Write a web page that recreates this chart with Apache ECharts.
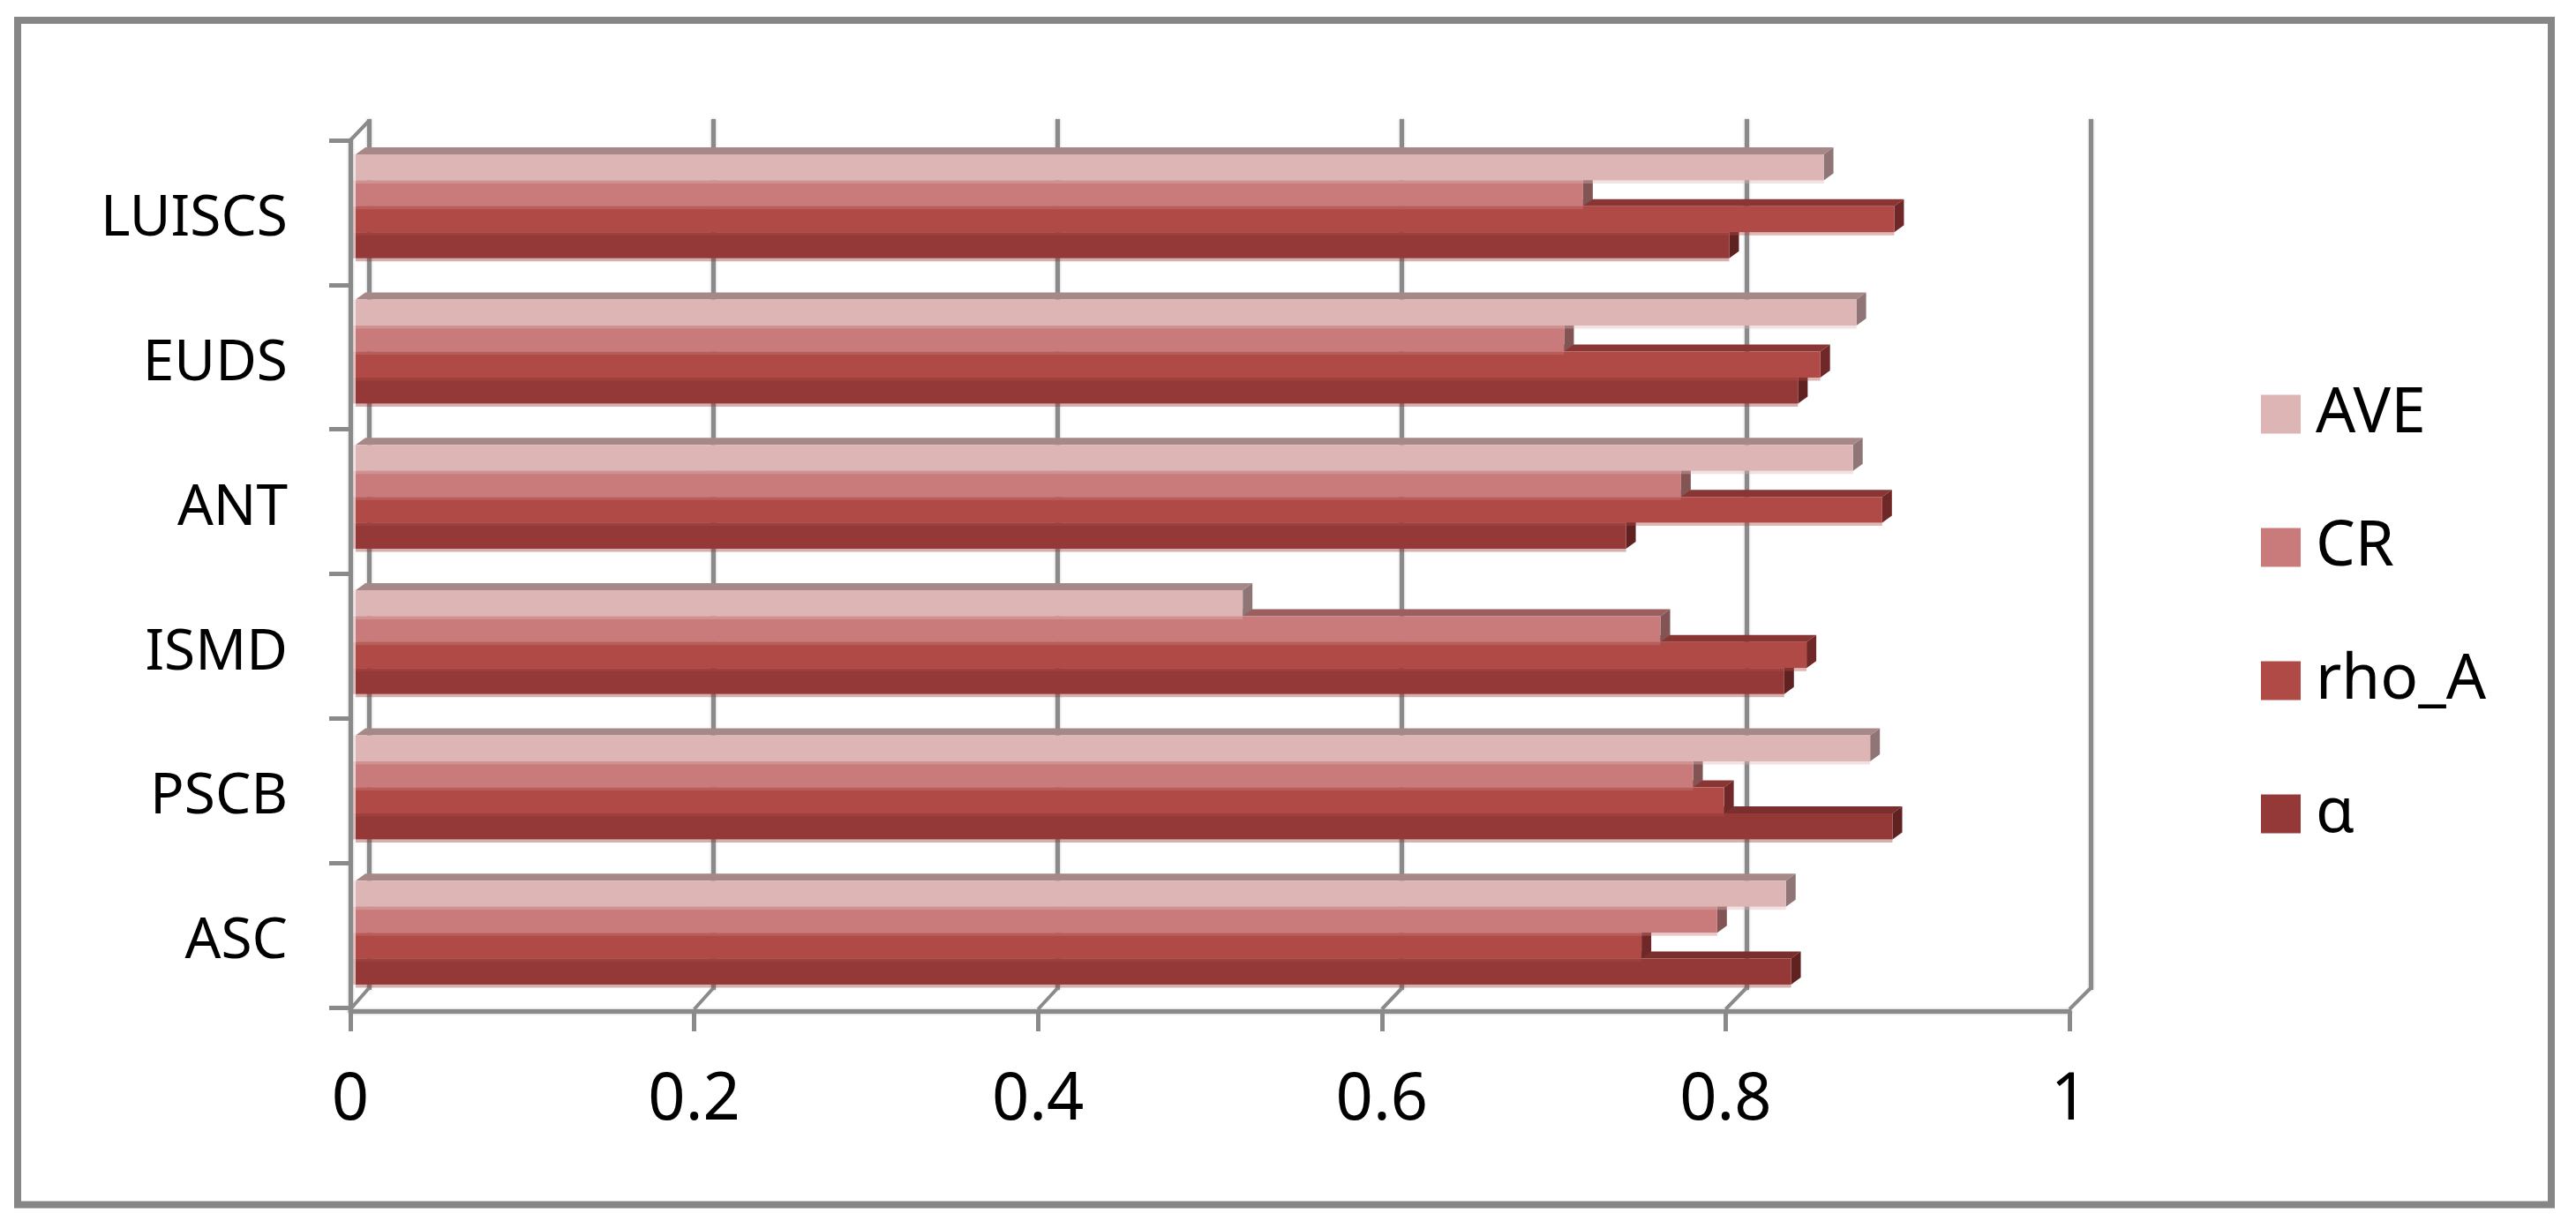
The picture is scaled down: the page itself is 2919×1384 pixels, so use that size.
<!DOCTYPE html>
<html>
<head>
<meta charset="utf-8">
<style>html,body{margin:0;padding:0;background:#fff}#c{width:2919px;height:1384px}</style>
<script src="https://cdn.jsdelivr.net/npm/echarts@6/dist/echarts.min.js"></script>
</head>
<body>
<div id="c"></div>
<script>
// Categories run bottom to top, as on the picture.
const categories = ['ASC', 'PSCB', 'ISMD', 'ANT', 'EUDS', 'LUISCS'];
const alphaValues = [0.835, 0.894, 0.831, 0.739, 0.839, 0.799];
const rhoAValues  = [0.748, 0.796, 0.844, 0.888, 0.852, 0.895];
const crValues    = [0.792, 0.778, 0.759, 0.771, 0.703, 0.714];
const aveValues   = [0.832, 0.881, 0.516, 0.871, 0.873, 0.854];
const valueTicks  = [0, 0.2, 0.4, 0.6, 0.8, 1];
const legendOrder = ['AVE', 'CR', 'rho_A', 'α'];

const FONT = '"Noto Sans", sans-serif';
const GREY = '#8a8a8a';
const DX = 11, DY = 8;            // bar extrusion
const GROUP_RATIO = 118 / 165;    // share of a category band filled by the 4 bars

const seriesDefs = [
  { name: 'α',     values: alphaValues, slot: 3, face: '#943938', cap: '#7a2f2e', side: '#602221' },
  { name: 'rho_A', values: rhoAValues,  slot: 2, face: '#b04a46', cap: '#893533', side: '#6f2827' },
  { name: 'CR',    values: crValues,    slot: 1, face: '#c97a7a', cap: '#9b5f5f', side: '#835454' },
  { name: 'AVE',   values: aveValues,   slot: 0, face: '#dcb5b4', cap: '#a78889', side: '#8f7576' }
];

function barRenderer(def) {
  return function (params, api) {
    const val = api.value(0), cat = api.value(1);
    const end = api.coord([val, cat]);
    const start = api.coord([0, cat]);
    const band = api.size([0, 1])[1];
    const groupH = band * GROUP_RATIO;
    const h = groupH / 4;
    const yt = end[1] - groupH / 2 + def.slot * h;
    const yb = yt + h;
    const x0 = start[0], xe = end[0];
    return {
      type: 'group',
      children: [
        { type: 'polygon', shape: { points: [[x0, yt], [x0 + DX, yt - DY], [xe + DX, yt - DY], [xe, yt]] },
          style: { fill: def.cap } },
        { type: 'polygon', shape: { points: [[xe, yt], [xe + DX, yt - DY], [xe + DX, yb - DY], [xe, yb]] },
          style: { fill: def.side } },
        { type: 'rect', shape: { x: x0, y: yt, width: xe - x0, height: h },
          style: { fill: def.face } },
        { type: 'rect', shape: { x: x0, y: yb, width: xe - x0, height: 3.5 },
          style: { fill: def.face, opacity: 0.4 } },
        { type: 'rect', shape: { x: x0 - 3, y: yt, width: 3, height: h },
          style: { fill: def.face, opacity: 0.3 } }
      ]
    };
  };
}

function floorRenderer(params, api) {
  const v = api.value(0);
  const x = api.coord([v, 0])[0];
  const r = params.coordSys;
  const yb = r.y + r.height;
  const dx = 21 + 3 * v;
  const kids = [{ type: 'line', shape: { x1: x, y1: yb + 2, x2: x + dx, y2: yb - 22 },
    style: { stroke: GREY, lineWidth: 4 } }];
  if (v === 0) {
    kids.push({ type: 'line', shape: { x1: x, y1: r.y, x2: x + dx, y2: r.y - 22 },
      style: { stroke: GREY, lineWidth: 4 } });
  }
  return { type: 'group', children: kids };
}

const softLine = { color: GREY, width: 5, shadowBlur: 3, shadowColor: 'rgba(134,134,134,0.6)' };

const option = {
  backgroundColor: '#fff',
  animation: false,
  graphic: [{
    type: 'rect', z: 0, silent: true,
    shape: { x: 20, y: 23, width: 2871, height: 1342.5 },
    style: { fill: '#fff', stroke: '#868686', lineWidth: 8 }
  }],
  legend: {
    left: 2562, top: 434, orient: 'vertical', padding: 0,
    itemWidth: 45, itemHeight: 44, itemGap: 80,
    selectedMode: false,
    data: legendOrder.map(n => ({ name: n, icon: 'rect' })),
    textStyle: { fontFamily: FONT, fontSize: 71, lineHeight: 71, color: '#000', padding: [0, 0, 0, 12] }
  },
  grid: [
    { left: 397, top: 159, width: 1948, height: 983, containLabel: false },   // front plane
    { left: 418, top: 135, width: 1951, height: 987, containLabel: false },   // back wall
    { left: 403, top: 151.5, width: 1948, height: 988, containLabel: false }, // bar plane
    { left: 397, top: 167, width: 1948, height: 983, containLabel: false }    // category label plane
  ],
  xAxis: [
    { gridIndex: 0, type: 'value', min: 0, max: 1, interval: 0.2, offset: 4,
      axisLine: { show: true, lineStyle: softLine },
      axisTick: { show: true, length: 23, lineStyle: { color: GREY, width: 5 } },
      axisLabel: { margin: 65, fontFamily: FONT, fontSize: 74, color: '#000',
        formatter: v => String(valueTicks[Math.round(v * 5)]) },
      splitLine: { show: false } },
    { gridIndex: 1, type: 'value', min: 0, max: 1, interval: 0.2,
      axisLine: { show: false }, axisTick: { show: false }, axisLabel: { show: false },
      splitLine: { show: true, lineStyle: softLine } },
    { gridIndex: 2, type: 'value', min: 0, max: 1, interval: 0.2, show: false },
    { gridIndex: 3, type: 'value', min: 0, max: 1, interval: 0.2, show: false }
  ],
  yAxis: [
    { gridIndex: 0, type: 'category', data: categories,
      axisLine: { show: true, lineStyle: softLine },
      axisTick: { show: true, length: 24, lineStyle: { color: GREY, width: 5 } },
      axisLabel: { show: false },
      splitLine: { show: false } },
    { gridIndex: 1, type: 'value', min: 0, max: 1, show: false, splitLine: { show: false } },
    { gridIndex: 2, type: 'category', data: categories, show: false },
    { gridIndex: 3, type: 'category', data: categories,
      axisLine: { show: false }, axisTick: { show: false }, splitLine: { show: false },
      axisLabel: { margin: 71, fontFamily: FONT, fontSize: 64, color: '#000' } }
  ],
  series: [
    { name: 'floor', type: 'custom', xAxisIndex: 0, yAxisIndex: 0, clip: false, silent: true,
      data: valueTicks.map(v => [v, 0]), renderItem: floorRenderer, encode: { x: 0, y: 1 }, z: 1 }
  ].concat(seriesDefs.map(def => ({
    name: def.name, type: 'custom', xAxisIndex: 2, yAxisIndex: 2, clip: false,
    itemStyle: { color: def.face },
    renderItem: barRenderer(def),
    encode: { x: 0, y: 1 },
    z: 3,
    data: def.values.map((v, i) => [v, i])
  })))
};

echarts.init(document.getElementById('c'), null, { renderer: 'canvas' }).setOption(option);
</script>
</body>
</html>
